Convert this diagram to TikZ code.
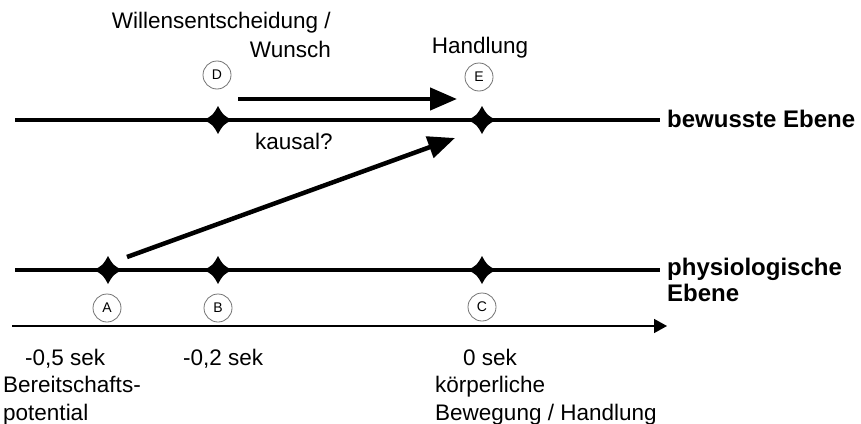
\documentclass[tikz,border=0pt]{standalone}
\usepackage{fontspec}
\setmainfont{Liberation Sans}
\usetikzlibrary{arrows.meta}

\begin{document}
\begin{tikzpicture}
		[x=1pt, y=-1pt,
		ebene/.style ={line width=3.5pt},
		zeit/.style ={line width=1.6pt, -{Triangle[length=13pt,width=14pt]}},
		pfeil/.style ={line width=4.5pt, -{Triangle[length=27pt,width=22pt]}},
		marke/.style ={circle, draw=black!55, line width=0.8pt, minimum size=28pt, inner sep=0pt, font=\fontsize{14}{14}\selectfont},
		txt/.style ={font=\fontsize{22.5}{28}\selectfont, inner sep=0pt, anchor=base west},
		titel/.style ={txt, font=\fontsize{24}{26}\selectfont\bfseries},
		stern/.pic ={\fill (0,-14) .. controls (5,-5) .. (14,0) .. controls (5,5) .. (0,14) .. controls (-5,5) .. (-14,0) .. controls (-5,-5) .. cycle;}]
		\useasboundingbox (0,0) rectangle (861,423);
		% Ebenen und Zeitachse
		\draw[ebene] (15,120) -- (660,120);
		\draw[ebene] (15,270) -- (660,270);
		\draw[zeit] (12,326) -- (667,326);
		\coordinate (sD) at (218,120);
		\coordinate (sE) at (482,120);
		\coordinate (sA) at (108,270);
		\coordinate (sB) at (218,270);
		\coordinate (sC) at (482,270);
		\foreach \s in {sD,sE,sA,sB,sC}
			\pic at (\s) {stern};
		\node[marke] (D) at (217,75) {D};
		\node[marke] (E) at (479,77) {E};
		\node[marke] (A) at (107,308) {A};
		\node[marke] (B) at (218,308) {B};
		\node[marke] (C) at (482,307) {C};
		% Pfeile
		\coordinate (dStart) at (238,99);
		\coordinate (eZiel) at (457,99);
		\coordinate (aStart) at (127,257);
		\coordinate (eZiel2) at (455,138);
		\draw[pfeil] (dStart) -- (eZiel);
		\draw[pfeil] (aStart) -- (eZiel2);
		% Texte
		\node[txt, align=right, anchor=base east, font=\fontsize{22.5}{29}\selectfont] (wille) at (331,57) {Willensentscheidung /\\Wunsch};
		\node[txt, anchor=base] (handlung) at (480,53) {Handlung};
		\node[txt] (kausal) at (255,149) {kausal?};
		\node[titel] (bewusst) at (667,127) {bewusste Ebene};
		\node[titel, align=left] (physio) at (667,301) {physiologische\\Ebene};
		\node[txt] (tA) at (25,365) {-0,5 sek};
		\node[txt, align=left] (bereit) at (3,420) {Bereitschafts-\\potential};
		\node[txt] (tB) at (183,365) {-0,2 sek};
		\node[txt] (tC) at (463,365) {0 sek};
		\node[txt, align=left] (bewegung) at (435,420) {körperliche\\Bewegung / Handlung};
	\end{tikzpicture}
\end{document}
